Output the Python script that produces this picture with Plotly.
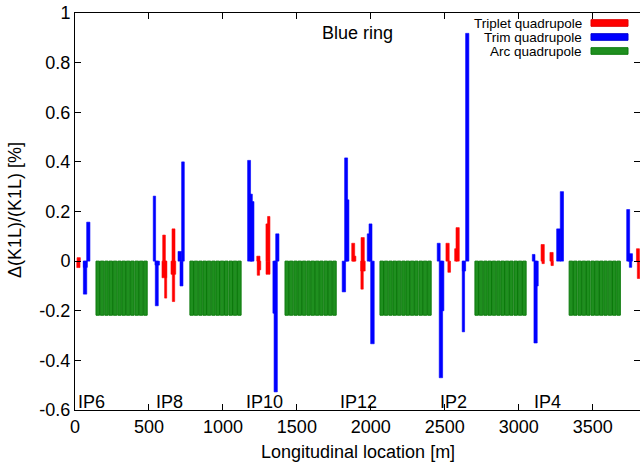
import plotly.graph_objects as go

# ---- RHIC Blue ring: relative quadrupole strength errors ----
# Triplet quadrupoles: centre position s [m], magnet length [m], dK1L/K1L [%]
triplet_s = [25, 23, 602, 604, 613, 666, 665, 666,
             1240, 1240, 1246, 1310, 1299, 1305,
             1881, 1888, 1945, 1941, 1947,
             2519, 2530, 2587, 2576,
             3162, 3165, 3222, 3226,
             3806, 3810]
triplet_len = [22, 22, 18, 32, 14, 20, 32, 16,
               22, 16, 20, 16, 16, 27,
               20, 22, 22, 16, 30,
               22, 18, 22, 18,
               22, 16, 22, 16,
               20, 16]
triplet_dk = [0.014, -0.026, 0.105, -0.067, -0.149, 0.13, -0.053, -0.163,
              0.02, -0.057, -0.035, 0.18, 0.15, -0.053,
              0.072, 0.02, 0.095, -0.113, -0.04,
              0.072, -0.045, 0.135, 0.05,
              0.067, -0.01, 0.035, -0.018,
              0.05, -0.07]

# Trim quadrupoles
trim_s = [68, 70, 90, 537, 553, 556, 709, 720, 730,
          1177, 1191, 1200, 1347, 1357, 1368,
          1818, 1833, 1842, 1985, 1998, 2011,
          2459, 2474, 2483, 2626, 2630, 2652,
          3101, 3114, 3121, 3270, 3292,
          3740, 3754, 3756]
trim_len = [23, 27, 22, 16, 20, 30, 25, 20, 18,
            20, 16, 20, 18, 22, 22,
            23, 20, 20, 18, 20, 24,
            20, 23, 22, 16, 22, 22,
            18, 22, 22, 27, 22,
            20, 30, 16]
trim_dk = [-0.133, -0.025, 0.157, 0.262, -0.18, -0.016, 0.039, -0.10, 0.40,
           0.406, 0.27, 0.24, -0.21, -0.527, 0.11,
           -0.124, 0.416, 0.247, 0.11, 0.15, -0.333,
           0.072, -0.47, -0.2, -0.285, -0.04, 0.918,
           0.027, -0.33, -0.1, 0.13, 0.28,
           0.208, 0.03, -0.025]

# Arc quadrupoles: start of each arc [m], quad centres within an arc [m]
arc_start = [142, 777, 1420, 2062, 2704, 3341]
arc_offset = [12, 41, 71, 100, 129, 159, 188, 217, 246, 276, 305, 334]
arc_len = 24
arc_dk = [-0.218, -0.218, -0.218, -0.218, -0.218, -0.218]

# Interaction points
ip_names = ["IP6", "IP8", "IP10", "IP12", "IP2", "IP4"]
ip_s = [0, 639, 1278, 1917, 2556, 3195]

x_ticks = [0, 500, 1000, 1500, 2000, 2500, 3000, 3500]
x_ticktext = ["0", "500", "1000", "1500", "2000", "2500", "3000", "3500"]
y_ticks = [-0.6, -0.4, -0.2, 0, 0.2, 0.4, 0.6, 0.8, 1.0]
y_ticktext = ["-0.6", "-0.4", "-0.2", "0", "0.2", "0.4", "0.6", "0.8", "1"]

arc_s, arc_y = [], []
for start, dk in zip(arc_start, arc_dk):
    for off in arc_offset:
        arc_s.append(start + off)
        arc_y.append(dk)

RED, BLUE = "#ff0000", "#0000ff"
GREEN, GREEN_EDGE = "#1f8f1f", "#0b7a0b"
FONT = "Liberation Sans, Arial, Helvetica, sans-serif"

fig = go.Figure()
fig.add_bar(x=arc_s, y=arc_y, width=[arc_len] * len(arc_s),
            marker=dict(color=GREEN, line=dict(color=GREEN_EDGE, width=1)),
            name="Arc quadrupole")
fig.add_bar(x=triplet_s, y=triplet_dk, width=triplet_len,
            marker=dict(color=RED, line=dict(color=RED, width=0.6)),
            name="Triplet quadrupole")
fig.add_bar(x=trim_s, y=trim_dk, width=trim_len,
            marker=dict(color=BLUE, line=dict(color=BLUE, width=0.6)),
            name="Trim quadrupole")

# plot area in pixels: x 75..640, y 13..410
L, R, T, B = 75, 640, 13, 410
def px(xp):
    return (xp - L) / (R - L)
def py(yp):
    return (B - yp) / (B - T)

annotations = []
for name, s in zip(ip_names, ip_s):
    annotations.append(dict(x=s, y=-0.566, xref="x", yref="y", text=name,
                            showarrow=False, font=dict(size=18, color="black"),
                            xanchor="left" if s == 0 else "center",
                            xshift=1 if s == 0 else 0, yanchor="middle"))
annotations.append(dict(x=1907, y=0.919, xref="x", yref="y", text="Blue ring",
                        showarrow=False, font=dict(size=18, color="black"),
                        xanchor="center", yanchor="middle"))
annotations.append(dict(x=px(358), y=py(452), xref="paper", yref="paper",
                        text="Longitudinal location [m]", showarrow=False,
                        font=dict(size=18, color="black"),
                        xanchor="center", yanchor="middle"))
annotations.append(dict(x=px(15), y=py(210), xref="paper", yref="paper",
                        text="\u0394(K1L)/(K1L) [%]", showarrow=False, textangle=-90,
                        font=dict(size=18, color="black"),
                        xanchor="center", yanchor="middle"))

# key: label text on the left, coloured box on the right
shapes = []
key_rows = [("Triplet quadrupole", RED, "#e00000", 23),
            ("Trim quadrupole", BLUE, "#0000d0", 37),
            ("Arc quadrupole", GREEN, GREEN_EDGE, 51)]
for label, fill, edge, yc in key_rows:
    annotations.append(dict(x=px(583), y=py(yc), xref="paper", yref="paper",
                            text=label, showarrow=False, borderpad=0,
                            font=dict(size=13.5, color="black"),
                            xanchor="right", yanchor="middle"))
    shapes.append(dict(type="rect", xref="paper", yref="paper",
                       x0=px(591), x1=px(628), y0=py(yc + 3.3), y1=py(yc - 3.3),
                       fillcolor=fill, line=dict(color=edge, width=1)))

fig.update_layout(
    width=640, height=466,
    margin=dict(l=L, r=640 - R, t=T, b=466 - B),
    paper_bgcolor="white", plot_bgcolor="white",
    barmode="overlay", showlegend=False,
    font=dict(family=FONT, size=18, color="black"),
    annotations=annotations, shapes=shapes,
    xaxis=dict(range=[0, 3820], tickvals=x_ticks, ticktext=x_ticktext,
               ticks="inside", ticklen=6, tickcolor="black", tickwidth=1,
               showline=True, linecolor="black", linewidth=1, mirror="ticks",
               showgrid=False, zeroline=False,
               tickfont=dict(family=FONT, size=18, color="black")),
    yaxis=dict(range=[-0.6, 1.0], tickvals=y_ticks, ticktext=y_ticktext,
               ticks="inside", ticklen=6, tickcolor="black", tickwidth=1,
               showline=True, linecolor="black", linewidth=1, mirror="ticks",
               showgrid=False, zeroline=False,
               tickfont=dict(family=FONT, size=18, color="black")),
)

fig.write_html("out.html")
